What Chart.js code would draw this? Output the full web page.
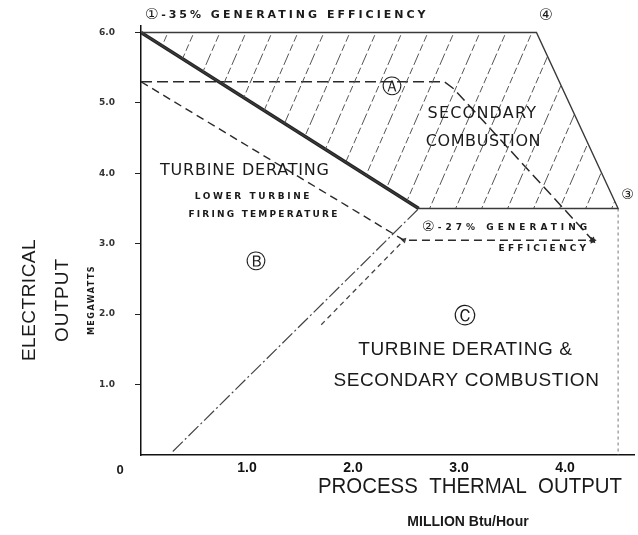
<!DOCTYPE html>
<html>
<head>
<meta charset="utf-8">
<script src="https://cdn.jsdelivr.net/npm/chart.js@4.4.1/dist/chart.umd.min.js"></script>
<style>
  html, body { margin: 0; padding: 0; background: #fff; }
</style>
</head>
<body>
<canvas id="chart" width="638" height="535"></canvas>
<script>
// tick values
const xTicks = [1, 2, 3, 4];
const yTicks = [1, 2, 3, 4, 5, 6];

// hatched area: secondary combustion envelope
const envelopeX = [0, 3.73, 4.5, 2.62, 0];
const envelopeY = [6.0, 6.0, 3.5, 3.5, 6.0];

// heavy line: turbine derating at full firing
const derateX = [0, 2.62];
const derateY = [6.0, 3.5];

// right limit
const limitX = [4.5, 4.5];
const limitY = [3.5, 0];

// dashed paths from the 5.3 MW point
const secCombX = [0, 2.86, 2.95, 4.26];
const secCombY = [5.3, 5.3, 5.2, 3.05];
const lowerX = [0, 2.48, 4.26];
const lowerY = [5.3, 3.05, 3.05];

// dotted line from the origin and the short parallel dash
const minFireX = [0.3, 2.62];
const minFireY = [0.05, 3.5];
const altX = [1.7, 2.48];
const altY = [1.85, 3.05];

const pts = (xs, ys) => xs.map((x, i) => ({ x, y: ys[i] }));

function hatchPattern() {
  const w = 26, h = 60;
  const c = document.createElement('canvas');
  c.width = w; c.height = h;
  const g = c.getContext('2d');
  g.strokeStyle = '#555';
  g.lineWidth = 1;
  g.setLineDash([7, 3]);
  [-w, 0, w].forEach(off => {
    g.beginPath();
    g.moveTo(off, h);
    g.lineTo(off + w, 0);
    g.stroke();
  });
  return g.createPattern(c, 'repeat');
}

// labels placed in data units
const notes = [
  { t: '\u2460', x: 0.1, y: 6.24, f: '15px "DejaVu Sans"' },
  { t: '-35% GENERATING EFFICIENCY', x: 0.19, y: 6.24, f: 'bold 11px "DejaVu Sans"', s: 3, a: 'left' },
  { t: '\u2463', x: 3.82, y: 6.24, f: '16px "DejaVu Sans"' },
  { t: '\u24B6', x: 2.37, y: 5.22, f: '20px "DejaVu Sans"' },
  { t: 'SECONDARY', x: 3.22, y: 4.84, f: '16px "DejaVu Sans"', s: 1.2 },
  { t: 'COMBUSTION', x: 3.23, y: 4.44, f: '16px "DejaVu Sans"', s: 0.6 },
  { t: 'TURBINE DERATING', x: 0.98, y: 4.03, f: '16px "DejaVu Sans"', s: 0.8 },
  { t: 'LOWER TURBINE', x: 1.06, y: 3.67, f: 'bold 9px "DejaVu Sans"', s: 2.6 },
  { t: 'FIRING TEMPERATURE', x: 1.16, y: 3.41, f: 'bold 9px "DejaVu Sans"', s: 2.2 },
  { t: '\u2461', x: 2.71, y: 3.23, f: '14px "DejaVu Sans"' },
  { t: '-27% GENERATING', x: 2.8, y: 3.23, f: 'bold 9px "DejaVu Sans"', s: 4, a: 'left' },
  { t: 'EFFICIENCY', x: 3.8, y: 2.93, f: 'bold 9px "DejaVu Sans"', s: 3.2 },
  { t: '\u24B7', x: 1.08, y: 2.73, f: '20px "DejaVu Sans"' },
  { t: '\u24B8', x: 3.06, y: 1.95, f: '22px "DejaVu Sans"' },
  { t: 'TURBINE DERATING &', x: 3.06, y: 1.49, f: '19px "Liberation Sans"', s: 0.6 },
  { t: 'SECONDARY COMBUSTION', x: 3.07, y: 1.05, f: '19px "Liberation Sans"', s: 0.6 },
  { t: '\u2462', x: 4.59, y: 3.68, f: '14px "DejaVu Sans"' }
];

const textPlugin = {
  id: 'texts',
  afterDraw(chart) {
    const { ctx } = chart;
    const xs = chart.scales.x, ys = chart.scales.y;
    ctx.save();
    ctx.fillStyle = '#1a1a1a';
    ctx.textBaseline = 'middle';
    notes.forEach(n => {
      ctx.font = n.f;
      ctx.letterSpacing = (n.s || 0) + 'px';
      ctx.textAlign = n.a || 'center';
      ctx.fillText(n.t, xs.getPixelForValue(n.x), ys.getPixelForValue(n.y));
    });
    ctx.letterSpacing = '0px';

    // origin label
    ctx.font = 'bold 13px "Liberation Sans"';
    ctx.textAlign = 'center';
    ctx.fillText('0', xs.getPixelForValue(0) - 21, ys.getPixelForValue(0) + 15);

    // y axis title
    const yc = 300;
    const vtext = (t, x, font, sp) => {
      ctx.save();
      ctx.translate(x, yc);
      ctx.rotate(-Math.PI / 2);
      ctx.font = font;
      ctx.letterSpacing = sp + 'px';
      ctx.fillText(t, 0, 0);
      ctx.restore();
    };
    vtext('ELECTRICAL', 30, '19px "Liberation Sans"', 0.5);
    vtext('OUTPUT', 63, '19px "Liberation Sans"', 1);
    vtext('MEGAWATTS', 92, 'bold 8px "DejaVu Sans"', 1.5);

    // x axis title
    ctx.font = '22px "Liberation Sans"';
    ctx.fillText('PROCESS  THERMAL  OUTPUT', 470, 487, 304);
    ctx.font = 'bold 14px "Liberation Sans"';
    ctx.fillText('MILLION Btu/Hour', 468, 522);
    ctx.restore();
  }
};

const ink = '#2a2a2a';

new Chart(document.getElementById('chart'), {
  type: 'line',
  data: {
    datasets: [
      {
        data: pts(envelopeX, envelopeY),
        borderColor: '#3a3a3a', borderWidth: 1.4,
        backgroundColor: hatchPattern(), fill: 'shape',
        pointRadius: 0, tension: 0
      },
      {
        data: pts(derateX, derateY),
        borderColor: '#222', borderWidth: 3.5, pointRadius: 0
      },
      {
        data: pts(limitX, limitY),
        borderColor: '#777', borderWidth: 1, borderDash: [3, 3], pointRadius: 0
      },
      {
        data: pts(secCombX, secCombY),
        borderColor: ink, borderWidth: 1.5, borderDash: [11, 5],
        pointRadius: [0, 0, 0, 4], pointStyle: 'triangle', pointRotation: 138,
        pointBackgroundColor: ink, pointBorderWidth: 0
      },
      {
        data: pts(lowerX, lowerY),
        borderColor: ink, borderWidth: 1.4, borderDash: [8, 5],
        pointRadius: [0, 0, 4], pointStyle: 'triangle', pointRotation: 90,
        pointBackgroundColor: ink, pointBorderWidth: 0
      },
      {
        data: pts(minFireX, minFireY),
        borderColor: '#444', borderWidth: 1.2, borderDash: [14, 3, 2, 3], pointRadius: 0
      },
      {
        data: pts(altX, altY),
        borderColor: '#444', borderWidth: 1.3, borderDash: [5, 4],
        pointRadius: [0, 3.5], pointStyle: 'triangle', pointRotation: 45,
        pointBackgroundColor: '#444', pointBorderWidth: 0
      }
    ]
  },
  options: {
    responsive: false,
    animation: false,
    layout: { padding: { top: 0, right: 2, left: 0, bottom: 0 } },
    plugins: { legend: { display: false }, tooltip: { enabled: false } },
    scales: {
      x: {
        type: 'linear', min: 0, max: 4.65,
        afterBuildTicks: s => { s.ticks = xTicks.map(v => ({ value: v })); },
        afterFit: s => { s.height = 80; },
        grid: { drawOnChartArea: false, drawTicks: false },
        border: { color: '#111', width: 1.5 },
        ticks: {
          padding: 5, color: '#111',
          font: { family: 'Liberation Sans', size: 14, weight: 'bold' },
          callback: v => v.toFixed(1)
        }
      },
      y: {
        type: 'linear', min: 0, max: 6.1,
        afterBuildTicks: s => { s.ticks = yTicks.map(v => ({ value: v })); },
        afterFit: s => { s.width = 141; },
        grid: { drawOnChartArea: false, drawTicks: true, tickLength: 6, color: '#222' },
        border: { color: '#111', width: 1.5 },
        ticks: {
          padding: 20, color: '#333',
          font: { family: 'DejaVu Sans', size: 9, weight: 'bold' },
          callback: v => v.toFixed(1)
        }
      }
    }
  },
  plugins: [textPlugin]
});
</script>
</body>
</html>
